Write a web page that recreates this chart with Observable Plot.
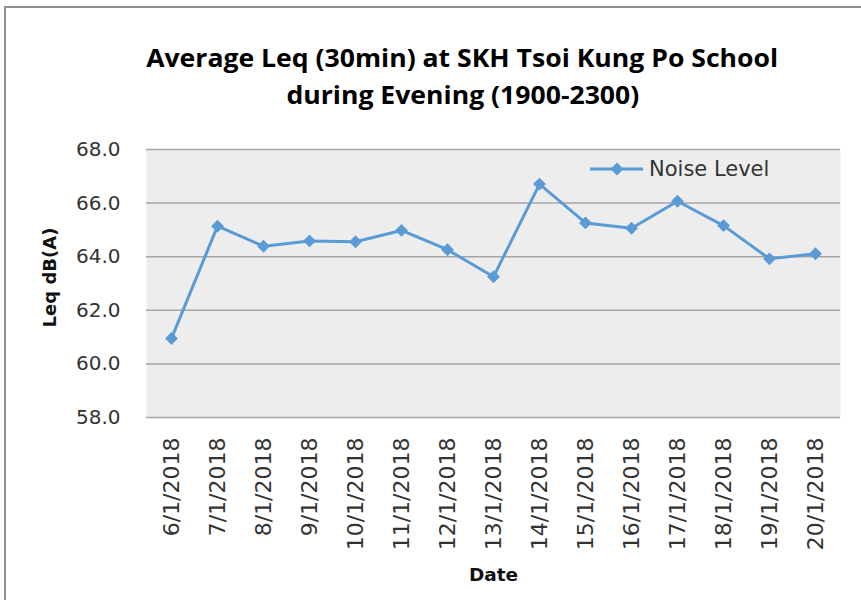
<!DOCTYPE html>
<html>
<head>
<meta charset="utf-8">
<script src="https://cdn.jsdelivr.net/npm/d3@7"></script>
<script src="https://cdn.jsdelivr.net/npm/@observablehq/plot@0.6"></script>
<style>
  html, body { margin: 0; padding: 0; background: white; }
  #page { position: relative; width: 861px; height: 600px; overflow: hidden; background: white; }
  #border { position: absolute; left: 4px; top: 6px; width: 900px; height: 700px;
            border-left: 2px solid #8f8f8f; border-top: 2px solid #8f8f8f; pointer-events: none; }
  #title { height: 130px; box-sizing: border-box; padding-top: 39px; padding-left: 64px; text-align: center;
           font-family: "Liberation Sans Narrow", "Open Sans", sans-serif; font-weight: bold;
           font-size: 25px; line-height: 37px; color: #000; }
  #title span { display: inline-block; white-space: nowrap; transform-origin: 50% 50%; }
  #legend { position: absolute; left: 590px; top: 154px; height: 30px; }
  #legend svg { position: absolute; left: 0; top: 0; }
  #legend span { position: absolute; left: 59px; top: 0; line-height: 30px; white-space: nowrap;
                 font-family: "DejaVu Sans", sans-serif; font-size: 21px; color: #333; }
</style>
</head>
<body>
<div id="page">
  <div id="title"><span id="t1">Average Leq (30min) at SKH Tsoi Kung Po School</span><br><span id="t2">during Evening (1900-2300)</span></div>
  <div id="chart"></div>
  <div id="legend">
    <svg width="60" height="30"><line x1="0" y1="15" x2="53" y2="15" stroke="#5b9bd5" stroke-width="3"/><path d="M27,8.5L33.5,15L27,21.5L20.5,15Z" fill="#5b9bd5"/></svg>
    <span>Noise Level</span>
  </div>
  <div id="border"></div>
</div>
<script>
const dates = ["6/1/2018", "7/1/2018", "8/1/2018", "9/1/2018", "10/1/2018", "11/1/2018", "12/1/2018",
  "13/1/2018", "14/1/2018", "15/1/2018", "16/1/2018", "17/1/2018", "18/1/2018", "19/1/2018", "20/1/2018"];
const noiseLevel = [60.95, 65.14, 64.39, 64.59, 64.56, 64.98, 64.26, 63.25, 66.71, 65.26, 65.06, 66.07, 65.16, 63.92, 64.11];
const yTicks = [58, 60, 62, 64, 66, 68];
const yLabel = "Leq dB(A)";
const xLabel = "Date";

const data = dates.map((d, i) => ({date: d, value: noiseLevel[i]}));

const chart = Plot.plot({
  width: 861,
  height: 470,
  marginTop: 19,
  marginBottom: 183,
  marginLeft: 146,
  marginRight: 21,
  style: {fontFamily: "DejaVu Sans, sans-serif", color: "#333", background: "white", overflow: "visible"},
  x: {type: "point", domain: dates, padding: 0.5, label: null},
  y: {domain: [58, 68], label: null},
  marks: [
    Plot.frame({fill: "#ededed", stroke: "none"}),
    Plot.gridY(yTicks, {stroke: "#a5a5a5", strokeOpacity: 1, strokeWidth: 1.5}),
    Plot.axisY(yTicks, {tickSize: 0, tickPadding: 26, tickFormat: d3.format(".1f"), fontSize: 20, label: null}),
    Plot.axisX({tickSize: 0, tickPadding: 20, tickRotate: -90, fontSize: 22, label: null}),
    Plot.line(data, {x: "date", y: "value", stroke: "#5b9bd5", strokeWidth: 3}),
    Plot.dot(data, {x: "date", y: "value", symbol: "diamond2", r: 5.8, fill: "#5b9bd5"}),
    Plot.text([yLabel], {frameAnchor: "left", textAnchor: "middle", dx: -96, dy: -6, rotate: -90, fontWeight: "bold", fontSize: 18, fill: "#111"}),
    Plot.text([xLabel], {frameAnchor: "bottom", dy: 163, fontWeight: "bold", fontSize: 18.5, fill: "#111"})
  ]
});
document.getElementById("chart").appendChild(chart);

// fit title width to reference (~632px for first line)
const t1 = document.getElementById("t1"), t2 = document.getElementById("t2");
const w = t1.getBoundingClientRect().width;
const s = 632 / w;
t1.style.transform = `scaleX(${s})`;
t2.style.transform = `scaleX(${s})`;
</script>
</body>
</html>
